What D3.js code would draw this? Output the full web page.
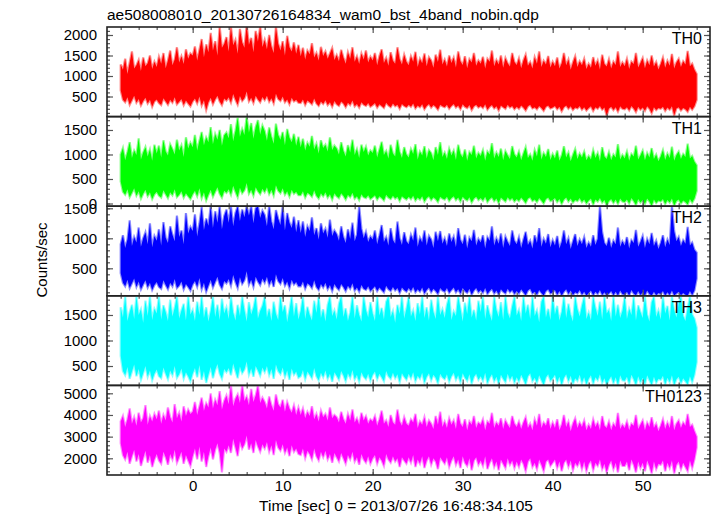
<!DOCTYPE html>
<html><head><meta charset="utf-8">
<script src="https://cdn.jsdelivr.net/npm/d3@7"></script>
<style>body{margin:0;background:#fff}svg{display:block}text{font-family:"Liberation Sans",Arial,Helvetica,sans-serif;fill:#000}</style>
</head><body>
<script>
// Time grid: first bin and bin width (sec). Each bin holds the highest and lowest rate drawn in it.
const startTime = -8, binWidth = 0.25;
const title = "ae508008010_20130726164834_wam0_bst_4band_nobin.qdp";
const xLabel = "Time [sec] 0 = 2013/07/26 16:48:34.105";
const yLabel = "Counts/sec";
const bandNames = ["TH0", "TH1", "TH2", "TH3", "TH0123"];
const xTicks = [0, 10, 20, 30, 40, 50];

const th0Hi = [
1280,1150,1420,1050,1330,1600,1180,1260,1390,1120,1450,1240,1310,1500,1170,1350,
1220,1470,1300,1560,1190,1380,1620,1260,1400,1700,1330,1480,1290,1650,1420,1550,
1500,1720,1380,1640,1900,1460,1770,1580,2050,1620,1850,1500,2200,1690,1780,1950,
1600,2200,1750,1880,1540,2150,1820,1690,2250,1760,1930,1580,2100,1840,2200,1710,
1880,1650,2000,1720,1560,2200,1790,1620,1850,1500,1980,1700,1600,1820,1540,1760,
1480,1690,1400,1620,1530,1800,1450,1560,1380,1710,1490,1600,1420,1550,1680,1390,
1510,1360,1640,1450,1300,1580,1420,1700,1350,1480,1290,1550,1400,1620,1330,1470,
1380,1560,1260,1490,1650,1320,1440,1250,1580,1370,1300,1700,1410,1280,1520,1350,
1260,1480,1350,1590,1220,1420,1310,1550,1240,1460,1380,1200,1520,1340,1640,1280,
1400,1230,1500,1320,1450,1210,1600,1360,1270,1480,1190,1410,1330,1560,1250,1380,
1300,1470,1180,1420,1350,1620,1240,1390,1280,1500,1200,1440,1310,1230,1560,1340,
1270,1430,1190,1380,1520,1250,1340,1180,1460,1300,1600,1220,1370,1280,1490,1210,
1350,1240,1450,1180,1310,1560,1260,1400,1150,1330,1480,1220,1360,1260,1420,1170,
1300,1200,1460,1250,1380,1160,1520,1290,1230,1410,1180,1350,1270,1600,1220,1330,
1240,1420,1170,1350,1290,1560,1210,1320,1440,1190,1380,1260,1500,1230,1340,1160,
1290,1450,1200,1370,1250,1540,1180,1330,1420,1220,1360,1280,1610,1240,1300,1150,
1050];
const th0Lo = [
650,420,360,480,300,410,520,350,440,280,390,470,330,420,250,380,
430,340,290,460,380,300,420,350,480,310,370,440,290,400,330,260,
380,450,330,500,280,410,170,360,470,310,430,520,380,290,450,400,
480,350,560,420,300,510,390,460,620,380,470,340,520,430,360,490,
410,520,370,460,330,570,440,390,500,360,430,310,470,380,420,350,
340,430,290,400,360,310,450,330,270,380,320,410,290,360,250,390,
310,270,380,330,240,350,290,400,260,320,230,360,300,270,340,250,
290,340,230,310,270,220,350,280,240,330,260,300,200,320,270,240,
300,250,330,210,280,240,310,190,270,320,230,290,250,180,300,260,
240,300,200,270,320,230,280,190,310,250,220,290,170,260,300,230,
270,220,310,180,250,290,210,260,160,280,240,200,300,230,270,190,
250,200,280,230,160,260,300,210,240,190,270,220,150,250,280,210,
230,270,190,250,140,240,280,200,260,170,230,210,270,180,240,160,
220,260,150,240,200,270,180,230,30,210,250,170,240,130,260,200,
190,240,160,270,210,120,250,180,230,150,260,200,90,240,170,220,
200,250,150,230,180,260,40,210,240,160,220,190,130,250,180,260,
420];

const th1Hi = [
1000,1130,880,1050,1250,930,1080,990,1330,900,1040,1150,960,1100,870,1200,
1020,1180,940,1290,1060,980,1210,1110,1000,1300,1080,1190,950,1350,1120,1240,
1150,1400,1080,1280,1460,1190,1350,1250,1560,1210,1420,1300,1500,1180,1390,1450,
1330,1620,1270,1480,1750,1360,1520,1400,1770,1450,1640,1320,1560,1700,1410,1590,
1480,1280,1550,1360,1220,1630,1400,1300,1460,1190,1520,1340,1250,1420,1180,1360,
1150,1320,1080,1240,1160,1380,1100,1220,1020,1290,1130,1200,1060,1350,1090,1180,
1120,1000,1250,1070,960,1190,1040,1300,990,1110,930,1200,1050,1160,980,1080,
1030,1180,940,1100,1260,990,1070,920,1200,1020,960,1300,1050,930,1150,1000,
940,1110,1010,1210,900,1060,980,1170,920,1090,1030,880,1150,990,1250,950,
1040,910,1120,980,1080,890,1200,1010,940,1100,870,1050,990,1180,920,1030,
970,1090,870,1060,1000,1230,920,1040,950,1120,880,1070,980,910,1170,1000,
940,1060,880,1020,1150,930,1000,870,1090,960,1200,900,1030,950,1110,890,
1010,920,1080,870,980,1170,940,1040,860,990,1110,910,1020,940,1060,880,
970,900,1090,930,1030,860,1150,960,910,1050,880,1000,940,1210,900,990,
920,1060,870,1010,960,1180,900,980,1080,880,1030,940,1130,910,1000,860,
960,1090,890,1020,930,1160,870,990,1060,910,1010,950,1220,920,970,850,
780];
const th1Lo = [
450,240,180,290,130,220,310,160,250,100,200,280,150,230,90,190,
240,160,120,270,190,110,230,170,290,130,180,250,120,210,150,90,
190,260,150,310,110,230,60,180,280,140,240,330,200,120,260,220,
290,180,360,240,130,320,210,270,420,200,280,160,330,250,190,300,
230,330,190,280,160,370,260,210,310,180,250,140,280,200,240,170,
170,250,120,220,190,140,270,160,100,210,150,230,120,190,80,210,
150,110,210,160,80,180,130,220,100,150,70,190,130,110,170,90,
130,170,80,150,110,60,180,120,90,160,100,140,50,150,110,80,
140,90,160,60,120,80,150,40,110,150,70,130,90,30,140,100,
80,140,50,110,150,70,120,40,140,90,60,130,20,100,140,70,
110,60,140,30,90,130,50,100,10,120,80,40,130,70,110,40,
90,50,120,70,10,100,130,50,80,30,110,60,0,90,120,50,
70,110,30,90,-10,80,120,40,100,20,70,50,110,30,80,0,
60,100,-20,80,40,110,20,70,-40,50,90,10,80,-10,100,40,
30,80,0,110,50,-30,90,20,70,-10,100,40,-45,80,10,60,
40,90,-10,70,20,100,-40,50,80,0,60,30,-20,90,20,100,
260];

const th2Hi = [
900,1050,840,980,1300,870,1020,930,1180,860,1000,1100,900,1250,850,1040,
960,1150,880,1270,1010,920,1200,1060,950,1380,1020,1130,900,1420,1080,1190,
1120,1400,1030,1250,1520,1140,1330,1210,1535,1170,1450,1260,1535,1150,1370,1480,
1260,1535,1200,1420,1535,1290,1480,1350,1535,1380,1535,1250,1500,1535,1340,1460,
1390,1200,1535,1280,1150,1470,1330,1220,1535,1130,1420,1260,1170,1360,1100,1300,
1090,1280,1020,1200,1120,1350,1050,1170,980,1250,1080,1160,1010,1310,1040,1130,
1070,960,1200,1020,920,1150,990,1260,950,1060,1535,1160,1000,1110,940,1030,
980,1130,900,1050,1220,940,1020,880,1170,970,910,1280,1000,890,1100,950,
900,1060,960,1180,860,1010,930,1130,880,1040,980,840,1110,950,1120,910,
1000,870,1080,940,1030,850,1170,970,900,1060,830,1010,950,1140,880,990,
930,1050,830,1020,960,1200,880,1000,910,1080,840,1030,940,870,1130,960,
900,1020,840,980,1110,890,960,830,1050,920,1170,860,990,910,1070,850,
970,880,1040,830,940,1130,900,1000,820,950,1070,870,980,900,1020,840,
930,860,1050,890,990,1535,1100,920,870,1010,840,960,900,1180,860,950,
880,1020,830,970,920,1140,860,940,1040,840,990,900,1090,870,960,820,
920,1050,850,980,890,1535,1120,950,1020,870,970,910,1190,880,930,810,
760];
const th2Lo = [
420,260,200,310,170,250,330,190,280,150,230,300,180,260,140,220,
270,190,160,300,220,150,260,200,320,170,210,280,150,240,190,130,
230,290,190,340,150,260,110,210,310,180,270,360,230,160,290,250,
320,210,390,270,170,350,240,300,450,230,310,190,360,280,220,330,
260,360,220,310,190,400,290,240,340,210,280,170,310,230,270,200,
200,280,160,250,220,170,300,190,140,240,180,260,150,220,120,240,
180,140,240,190,120,210,160,250,130,180,110,220,160,140,200,120,
160,200,120,180,140,100,210,150,120,190,130,170,90,180,140,110,
170,120,190,100,150,110,180,80,140,180,100,160,120,70,170,130,
110,170,90,140,180,100,150,80,170,120,90,160,60,130,170,100,
140,90,170,70,120,160,80,130,60,150,110,80,160,100,140,70,
120,80,150,100,50,130,160,80,110,60,140,90,45,120,150,80,
100,140,60,120,45,110,150,70,130,55,100,80,140,60,110,45,
90,130,50,110,70,140,55,100,45,80,120,50,110,45,130,70,
60,110,45,140,80,50,120,55,100,45,130,70,45,110,50,90,
70,120,45,100,55,130,45,80,110,50,90,60,45,120,55,130,
330];

const th3Hi = [
1650,1450,1860,1380,1560,1700,1420,1860,1500,1610,1350,1780,1480,1860,1400,1620,
1530,1860,1410,1690,1560,1380,1800,1470,1640,1860,1430,1590,1720,1390,1860,1510,
1600,1380,1760,1500,1860,1440,1650,1370,1580,1860,1460,1700,1400,1820,1530,1650,
1420,1860,1550,1390,1700,1480,1860,1600,1370,1750,1510,1640,1860,1430,1580,1680,
1860,1450,1620,1380,1760,1520,1400,1860,1560,1690,1360,1600,1860,1470,1730,1410,
1580,1860,1420,1660,1500,1390,1780,1540,1860,1440,1610,1370,1700,1860,1480,1590,
1410,1720,1860,1460,1630,1380,1550,1860,1430,1690,1500,1370,1860,1600,1450,1750,
1530,1380,1860,1490,1640,1410,1760,1860,1460,1580,1350,1700,1520,1860,1430,1620,
1860,1470,1590,1380,1730,1510,1860,1440,1650,1390,1800,1560,1420,1860,1500,1610,
1440,1700,1860,1400,1570,1480,1860,1630,1370,1740,1520,1860,1450,1600,1390,1780,
1560,1860,1420,1690,1510,1380,1860,1600,1460,1750,1400,1860,1540,1430,1670,1860,
1490,1600,1380,1860,1530,1700,1420,1860,1480,1590,1360,1760,1860,1450,1620,1400,
1860,1510,1680,1390,1560,1860,1440,1720,1500,1370,1860,1610,1470,1680,1860,1420,
1550,1390,1860,1640,1480,1760,1410,1860,1530,1600,1380,1860,1470,1700,1440,1580,
1860,1420,1620,1500,1860,1390,1690,1560,1440,1860,1510,1370,1750,1860,1460,1590,
1410,1860,1530,1680,1390,1860,1600,1450,1720,1860,1480,1380,1640,1860,1510,1430,
1250];
const th3Lo = [
700,400,320,480,250,390,530,300,440,230,360,500,290,410,220,350,
430,300,260,470,350,240,410,320,500,270,340,450,250,380,300,200,
350,460,280,520,230,400,170,330,480,260,420,540,350,250,440,380,
460,320,550,400,260,490,360,430,590,330,450,290,500,410,310,470,
380,500,320,440,250,530,400,340,470,290,410,230,450,330,390,270,
300,420,240,390,330,260,460,300,220,370,280,410,250,350,190,380,
310,230,400,320,200,360,270,420,240,330,190,380,290,240,350,210,
330,390,240,350,280,200,400,300,250,370,260,340,180,360,290,230,
350,260,380,200,310,250,370,170,290,360,220,330,270,160,350,280,
240,340,190,300,370,230,320,180,360,270,210,340,150,290,350,230,
300,210,370,160,270,340,200,290,150,330,250,180,350,230,310,170,
280,190,330,240,140,300,360,200,270,170,320,220,130,280,340,210,
260,330,180,290,130,270,340,200,310,150,260,210,330,170,280,140,
250,320,150,280,220,340,170,260,130,230,300,160,280,130,320,220,
210,290,150,330,240,130,300,180,270,140,320,220,130,290,170,250,
230,310,140,270,180,320,130,240,290,160,260,200,140,300,180,330,
580];

const th0123Hi = [
3700,3950,3450,3800,4300,3600,3900,3500,4100,3650,3850,4450,3550,3950,3700,4050,
3800,4200,3600,4000,3750,4350,3900,3650,4500,3850,4100,3700,4400,3950,4250,4050,
4150,4600,4000,4400,4800,4200,4550,4350,5000,4300,4700,4450,5100,4250,4650,4900,
4500,5365,4400,4750,4950,4550,5365,4650,4850,4450,5200,4600,4900,5365,4550,4800,
4600,4300,4850,4450,4200,4950,4500,4350,4700,4150,4600,4300,4100,4450,4000,4350,
4000,4300,3850,4150,3950,4400,3800,4050,3700,4200,3900,4050,3750,4350,3850,4000,
3900,3650,4150,3800,3600,4050,3750,4250,3650,3850,3550,4100,3750,3950,3600,3800,
3700,3950,3500,3800,4200,3600,3750,3450,4000,3650,3550,4250,3700,3500,3900,3600,
3500,3800,3650,4050,3400,3700,3550,3900,3450,3750,3600,3350,3950,3550,4150,3450,
3700,3400,3850,3550,3750,3350,4050,3600,3450,3800,3300,3700,3550,3950,3400,3650,
3550,3800,3300,3700,3600,4100,3400,3650,3500,3850,3350,3750,3550,3400,3950,3600,
3450,3700,3350,3650,3900,3400,3600,3300,3800,3500,4050,3400,3650,3500,3850,3350,
3650,3400,3800,3300,3550,4000,3450,3700,3250,3600,3850,3400,3650,3450,3750,3300,
3550,3350,3800,3450,3650,3300,3950,3500,3400,3700,3300,3600,3450,4100,3350,3550,
3400,3700,3300,3600,3500,4000,3350,3550,3750,3300,3650,3450,3900,3400,3600,3250,
3500,3800,3350,3650,3400,3950,3300,3600,3750,3400,3650,3500,4050,3450,3550,3250,
3000];
const th0123Lo = [
2700,2150,1950,2300,1750,2100,2400,1850,2200,1650,2000,2350,1800,2150,1600,1950,
2200,1900,1750,2300,2050,1700,2200,1950,2400,1800,2050,2300,1750,2150,1900,1650,
2100,2450,1950,2550,1850,2300,1600,2100,2500,1950,2400,2700,2250,1350,2450,2300,
2600,2250,2900,2500,2100,2800,2450,2650,3050,2400,2700,2250,2850,2550,2300,2650,
2450,2750,2300,2600,2150,2850,2500,2350,2650,2250,2500,2100,2600,2300,2450,2200,
2150,2450,2000,2350,2200,1950,2450,2100,1900,2300,2050,2350,1950,2200,1800,2250,
2050,1850,2250,2000,1750,2150,1950,2300,1850,2050,1700,2200,1950,1800,2100,1750,
2000,2150,1750,2050,1900,1650,2200,1950,1800,2100,1850,2000,1600,2050,1900,1750,
2050,1800,2150,1600,1950,1750,2100,1550,1900,2100,1700,2000,1850,1500,2050,1900,
1750,2050,1600,1900,2100,1700,1950,1550,2100,1800,1650,2000,1450,1900,2050,1700,
1900,1650,2100,1500,1800,2000,1600,1850,1450,1950,1750,1550,2000,1700,1900,1550,
1850,1600,1950,1750,1400,1850,2000,1600,1800,1500,1950,1700,1400,1850,1950,1650,
1800,1950,1550,1850,1400,1800,1950,1600,1900,1450,1800,1650,1900,1500,1850,1400,
1750,1900,1450,1800,1650,1950,1500,1750,1350,1700,1900,1500,1800,1350,1900,1650,
1650,1850,1450,1950,1700,1350,1850,1550,1800,1400,1900,1650,1300,1850,1500,1750,
1700,1900,1400,1800,1550,1900,1300,1700,1850,1500,1800,1600,1400,1900,1550,1950,
2500];

const highs = [th0Hi, th1Hi, th2Hi, th3Hi, th0123Hi];
const lows = [th0Lo, th1Lo, th2Lo, th3Lo, th0123Lo];
const colors = ["#ff0000", "#00ff00", "#0000ff", "#00ffff", "#ff00ff"];
const yDomains = [[10, 2195], [-55, 1773], [42, 1535], [120, 1876], [1229, 5365]];
const yTickSets = [[500, 1000, 1500, 2000], [0, 500, 1000, 1500], [500, 1000, 1500], [500, 1000, 1500], [2000, 3000, 4000, 5000]];
const yMinorSteps = [100, 100, 100, 100, 200];

const W = 717, H = 516;
const mLeft = 107, mRight = 710, mTop = 27, mBottom = 475;
const ph = (mBottom - mTop) / 5;

const svg = d3.select("body").append("svg").attr("width", W).attr("height", H);
const x = d3.scaleLinear().domain([-9.52, 57.48]).range([mLeft, mRight]);
const xMinor = d3.range(-8, 57, 2);

svg.append("text").attr("x", mLeft).attr("y", 20).style("font-size", "15.5px").text(title);

highs.forEach((hi, i) => {
  const lo = lows[i];
  const y0 = mTop + i * ph, y1 = mTop + (i + 1) * ph;
  const y = d3.scaleLinear().domain(yDomains[i]).range([y1, y0]);
  const g = svg.append("g");
  g.append("clipPath").attr("id", "c" + i).append("rect")
    .attr("x", mLeft).attr("y", y0).attr("width", mRight - mLeft).attr("height", ph);
  const bins = hi.map((h, j) => ({t: startTime + j * binWidth, h, l: lo[j]}));
  const area = d3.area().x(d => x(d.t)).y0(d => y(d.l)).y1(d => y(d.h));
  const gc = g.append("g").attr("clip-path", `url(#c${i})`);
  gc.append("path").datum(bins).attr("d", area).attr("fill", "none")
    .attr("stroke", colors[i]).attr("stroke-opacity", 0.45).attr("stroke-width", 2.2).attr("stroke-linejoin", "miter");
  gc.append("path").datum(bins).attr("d", area).attr("fill", colors[i]).attr("stroke", "none");

  const dom = yDomains[i];
  const yMinor = d3.range(Math.ceil(dom[0] / yMinorSteps[i]) * yMinorSteps[i], dom[1], yMinorSteps[i]);
  const styleAxis = sel => { sel.select(".domain").remove(); sel.selectAll(".tick line").attr("stroke", "#555").attr("stroke-width", 1.2); };
  g.append("g").attr("transform", `translate(${mLeft},0)`).call(d3.axisLeft(y).tickValues(yMinor).tickSize(-3).tickFormat("")).call(styleAxis);
  g.append("g").attr("transform", `translate(${mRight},0)`).call(d3.axisRight(y).tickValues(yMinor).tickSize(-3).tickFormat("")).call(styleAxis);
  g.append("g").attr("transform", `translate(0,${y0})`).call(d3.axisTop(x).tickValues(xMinor).tickSize(-3).tickFormat("")).call(styleAxis);
  g.append("g").attr("transform", `translate(0,${y1})`).call(d3.axisBottom(x).tickValues(xMinor).tickSize(-3).tickFormat("")).call(styleAxis);
  const la = g.append("g").attr("transform", `translate(${mLeft},0)`)
    .call(d3.axisLeft(y).tickValues(yTickSets[i]).tickSize(-6).tickPadding(10).tickFormat(d3.format("d"))).call(styleAxis);
  la.selectAll("text").style("font-size", "15px").attr("fill", "#000");
  g.append("g").attr("transform", `translate(${mRight},0)`).call(d3.axisRight(y).tickValues(yTickSets[i]).tickSize(-6).tickFormat("")).call(styleAxis);
  g.append("g").attr("transform", `translate(0,${y0})`).call(d3.axisTop(x).tickValues(xTicks).tickSize(-6).tickFormat("")).call(styleAxis);
  const ba = g.append("g").attr("transform", `translate(0,${y1})`)
    .call(d3.axisBottom(x).tickValues(xTicks).tickSize(-6).tickPadding(5).tickFormat(i === 4 ? d3.format("d") : "")).call(styleAxis);
  ba.selectAll("text").style("font-size", "15px").attr("fill", "#000");

  g.append("rect").attr("x", mLeft).attr("y", y0).attr("width", mRight - mLeft).attr("height", ph)
    .attr("fill", "none").attr("stroke", "#222").attr("stroke-width", 1.6);
  g.append("text").attr("x", mRight - 8).attr("y", y0 + 17).attr("text-anchor", "end")
    .style("font-size", "16px").text(bandNames[i]);
});

svg.append("text").attr("transform", "translate(47,260) rotate(-90)").attr("text-anchor", "middle")
  .style("font-size", "15px").text(yLabel);
svg.append("text").attr("x", 396).attr("y", 511).attr("text-anchor", "middle")
  .style("font-size", "15.5px").text(xLabel);
</script>
</body></html>
